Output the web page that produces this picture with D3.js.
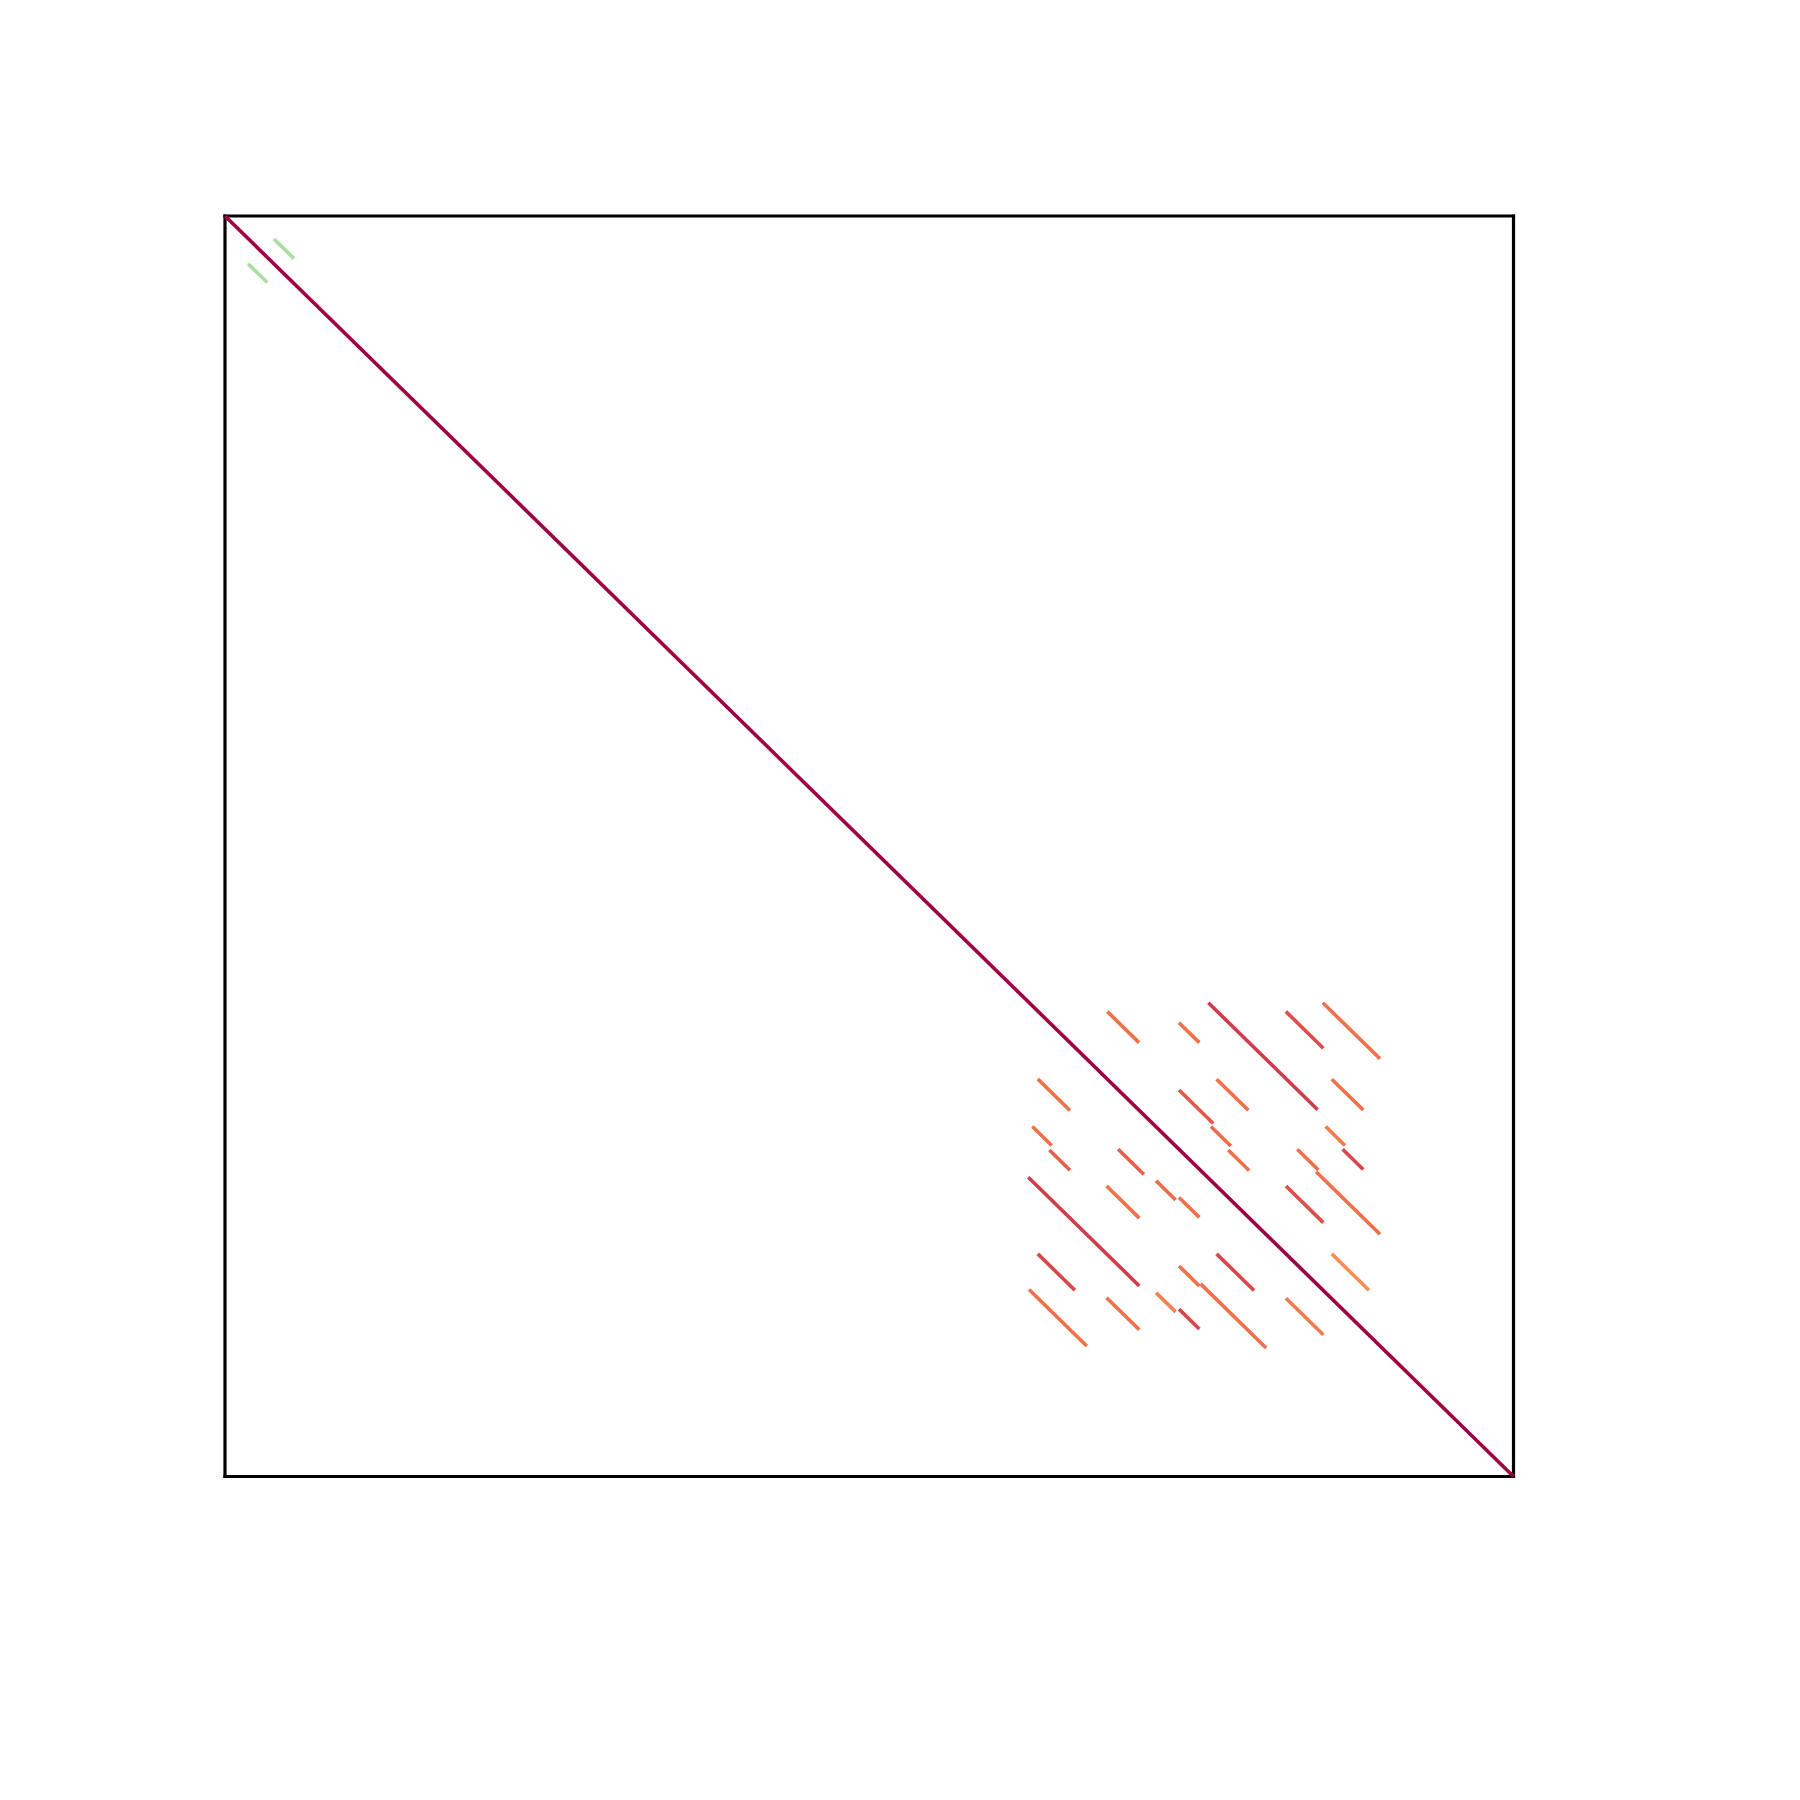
<!DOCTYPE html>
<html>
<head>
<meta charset="utf-8">
<script src="https://cdn.jsdelivr.net/npm/d3@7"></script>
<style>
  html, body { margin: 0; padding: 0; background: #ffffff; }
</style>
</head>
<body>
<svg id="chart" width="1800" height="1800"></svg>
<script>
// Self dot plot: sequence length and alignment segments (query start, subject start, length, identity %)
const seqLength = 5000;
const segQueryStart = [0,
  190, 90,
  3424, 3702, 3154, 3133, 3199, 3466, 3702, 3816, 4117, 4260, 3848, 4295, 3826, 3893, 4271, 4337, 4161, 4234,
  3117, 3421, 3613, 3702, 3154, 3120, 3421, 3613, 3702, 3702, 4117, 3848, 3786, 4295, 4117];
const segSubjectStart = [0,
  91, 190,
  3156, 3200, 3423, 3612, 3705, 3702, 3467, 3121, 3156, 3121, 3424, 3424, 3612, 3705, 3612, 3702, 3702, 3791,
  3813, 3848, 3827, 3893, 4117, 4258, 4291, 4271, 4165, 4336, 3848, 4117, 4236, 4117, 4293];
const segLength = [5000,
  78, 74,
  123, 79, 125, 75, 80, 100, 133, 424, 145, 222, 123, 122, 77, 81, 75, 80, 82, 248,
  431, 127, 76, 79, 144, 224, 127, 76, 79, 79, 145, 145, 254, 144, 145];
const segIdentity = [100,
  79, 79,
  94, 94, 94, 94, 95, 95, 95.5, 97, 96, 94, 94, 94, 94.3, 94, 93.5, 96.4, 94, 94,
  97, 94, 94.3, 94, 96.4, 94, 94, 93.2, 94, 96.4, 96, 96.4, 94, 92.5, 93.5];

const svg = d3.select("#chart");
svg.append("rect").attr("width", 1800).attr("height", 1800).attr("fill", "#ffffff");

const x = d3.scaleLinear().domain([0, seqLength]).range([225, 1513.5]);
const y = d3.scaleLinear().domain([0, seqLength]).range([216, 1476.5]);
const color = d3.scaleSequential(d3.interpolateSpectral).domain([100, 70]);

// frame
const frame = svg.append("g");
const x0 = x(0), x1 = x(seqLength), y0 = y(0), y1 = y(seqLength);
[[x0, y0, x1, y0], [x1, y0, x1, y1], [x1, y1, x0, y1], [x0, y1, x0, y0]].forEach(d => {
  frame.append("line")
    .attr("x1", d[0]).attr("y1", d[1]).attr("x2", d[2]).attr("y2", d[3])
    .attr("stroke", "#000000").attr("stroke-width", 3.2).attr("stroke-linecap", "square");
});

const segs = segQueryStart.map((q, i) => ({
  q: q, s: segSubjectStart[i], len: segLength[i], id: segIdentity[i]
}));

// draw smaller segments first, main diagonal last (on top)
const order = segs.slice(1).concat([segs[0]]);
svg.append("g").selectAll("line").data(order).join("line")
  .attr("x1", d => x(d.q))
  .attr("y1", d => y(d.s))
  .attr("x2", d => x(d.q + d.len))
  .attr("y2", d => y(d.s + d.len))
  .attr("stroke", d => color(d.id))
  .attr("stroke-width", 3.6)
  .attr("stroke-linecap", "butt");
</script>
</body>
</html>
